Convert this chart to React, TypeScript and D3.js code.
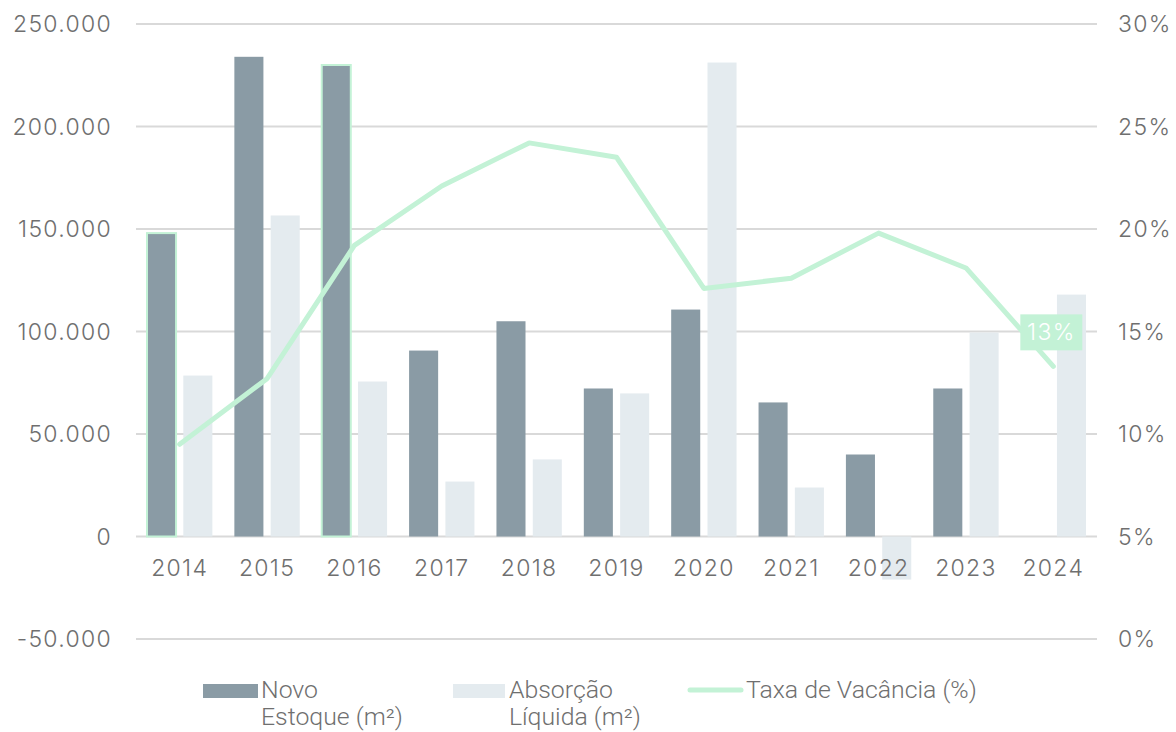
import React from "react";
import * as d3 from "d3";

const years = ["2014","2015","2016","2017","2018","2019","2020","2021","2022","2023","2024"];
const novoEstoque = [148000, 234000, 230000, 90700, 105000, 72200, 110700, 65400, 40000, 72200, 0];
const absorcao = [78500, 156600, 75600, 26800, 37600, 69800, 231200, 23900, -21000, 99500, 118000];
const vacancia = [9.5, 12.7, 19.2, 22.1, 24.2, 23.5, 17.1, 17.6, 19.8, 18.1, 13.3];
const highlighted = ["2014", "2016"];
const leftTicks = [-50000, 0, 50000, 100000, 150000, 200000, 250000];
const rightTicks = [0, 5, 10, 15, 20, 25, 30];

const W = 1176, H = 732;
const M = { left: 136, right: 1097, top: 24, bottom: 639 };
const DARK = "#8a9ba5";
const LIGHT = "#e4ebef";
const GREEN = "#c3f2d6";
const TXT = "#6f6f6f";
const FONT = "Inter, 'Open Sans', sans-serif";
const LS = 1.3;
const FS = 23;
const SX = 1.08;

export default function App() {
  const x = d3.scaleBand().domain(years).range([M.left, M.right]).paddingInner(0).paddingOuter(0);
  const inner = d3.scaleBand().domain(["a", "b"]).range([11, x.bandwidth() - 11]).paddingInner(0.2);
  const y = d3.scaleLinear().domain([-50000, 250000]).range([M.bottom, M.top]);
  const yr = d3.scaleLinear().domain([0, 30]).range([M.bottom, M.top]);
  const fmt = (v: number) => d3.format(",")(Math.abs(v)).replace(/,/g, ".");
  const fmtSigned = (v: number) => (v < 0 ? "-" : "") + fmt(v);
  const line = d3.line<number>()
    .x((_, i) => (x(years[i]) as number) + x.bandwidth() / 2)
    .y((d) => yr(d));
  const lastX = (x(years[years.length - 1]) as number) + x.bandwidth() / 2;
  const lastY = yr(vacancia[vacancia.length - 1]);

  const LT = (props: { x: number; y: number; children: React.ReactNode }) => (
    <text x={props.x / SX} y={props.y} transform={`scale(${SX},1)`}>{props.children}</text>
  );

  return (
    <svg width={W} height={H} style={{ position: "absolute", left: 0, top: 0, background: "#fff" }}>
      {leftTicks.map((t) => (
        <g key={t}>
          <line x1={M.left} x2={M.right} y1={y(t)} y2={y(t)} stroke="#d9d9d9" strokeWidth={2} />
          <text x={112} y={y(t)} dy="0.35em" textAnchor="end" fontSize={FS} letterSpacing={LS} fontWeight={300} fill={TXT} fontFamily={FONT}>{fmtSigned(t)}</text>
        </g>
      ))}
      {rightTicks.map((t) => (
        <text key={t} x={1118} y={yr(t)} dy="0.35em" textAnchor="start" fontSize={FS} letterSpacing={LS} fontWeight={300} fill={TXT} fontFamily={FONT}>{t}%</text>
      ))}
      {years.map((yv, i) => {
        const bx = x(yv) as number;
        const v1 = novoEstoque[i];
        const v2 = absorcao[i];
        const hl = highlighted.includes(yv);
        return (
          <g key={yv}>
            {v1 !== 0 && (
              <rect x={bx + (inner("a") as number)} width={inner.bandwidth()} y={y(Math.max(0, v1))} height={Math.abs(y(v1) - y(0))}
                fill={DARK} stroke={hl ? GREEN : "none"} strokeWidth={hl ? 2 : 0} />
            )}
            <rect x={bx + (inner("b") as number)} width={inner.bandwidth()} y={y(Math.max(0, v2))} height={Math.abs(y(v2) - y(0))} fill={LIGHT} />
          </g>
        );
      })}
      {years.map((yv) => (
        <text key={yv} x={(x(yv) as number) + x.bandwidth() / 2} y={576} textAnchor="middle" fontSize={FS} letterSpacing={LS} fontWeight={300} fill={TXT} fontFamily={FONT}>{yv}</text>
      ))}
      <path d={line(vacancia) || ""} fill="none" stroke={GREEN} strokeWidth={5} strokeLinecap="round" strokeLinejoin="round" />
      <rect x={lastX - 33} y={lastY - 52} width={62} height={36} fill={GREEN} />
      <text x={lastX - 2} y={lastY - 34} dy="0.35em" textAnchor="middle" fontSize={FS} letterSpacing={LS} fontWeight={300} fill="#fff" fontFamily={FONT}>{Math.round(vacancia[vacancia.length - 1])}%</text>
      {/* legend */}
      <g fontFamily="Roboto, sans-serif" fontWeight={300} fontSize={23} fill={TXT}>
        <rect x={203} y={684} width={55} height={14} fill={DARK} />
        <LT x={261} y={698}>Novo</LT>
        <LT x={261} y={725}>Estoque (m²)</LT>
        <rect x={453} y={684} width={52} height={14} fill={LIGHT} />
        <LT x={509} y={698}>Absorção</LT>
        <LT x={509} y={725}>Líquida (m²)</LT>
        <line x1={690} x2={741} y1={690} y2={690} stroke={GREEN} strokeWidth={5} strokeLinecap="round" />
        <LT x={746} y={698}>Taxa de Vacância (%)</LT>
      </g>
    </svg>
  );
}
